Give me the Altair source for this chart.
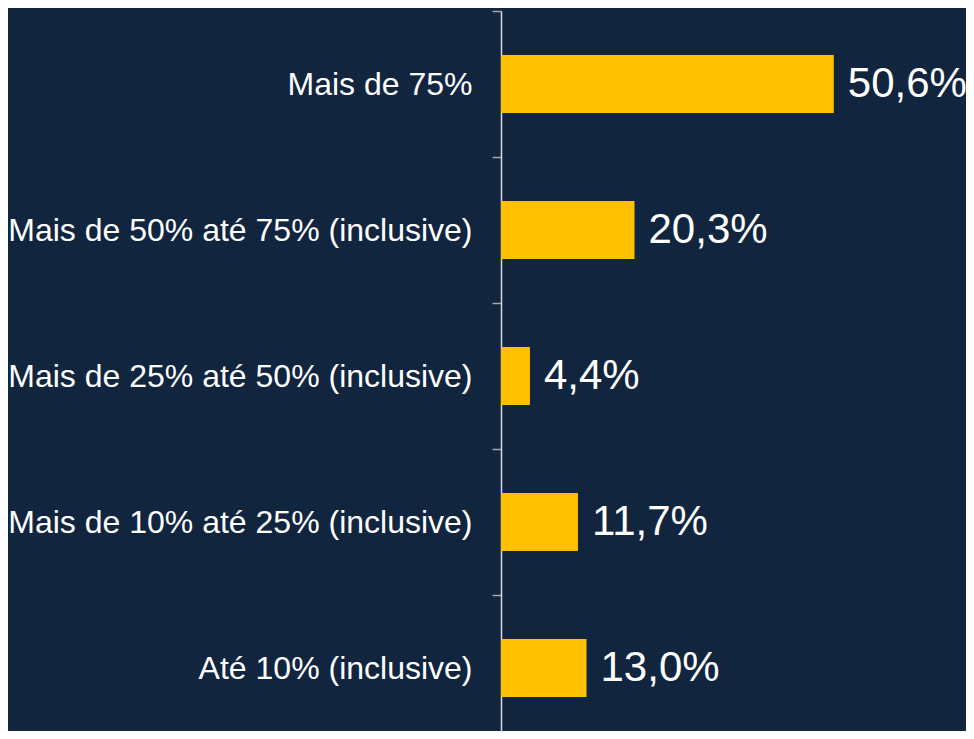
import altair as alt
import pandas as pd

categories = [
    "Mais de 75%",
    "Mais de 50% até 75% (inclusive)",
    "Mais de 25% até 50% (inclusive)",
    "Mais de 10% até 25% (inclusive)",
    "Até 10% (inclusive)",
]
values = [50.6, 20.3, 4.4, 11.7, 13.0]
value_labels = ["50,6%", "20,3%", "4,4%", "11,7%", "13,0%"]

df = pd.DataFrame({"cat": categories, "val": values, "lbl": value_labels})

FONT = "Liberation Sans"
BG = "#11253F"

y_enc = alt.Y(
    "cat:N",
    sort=categories,
    title=None,
    scale=alt.Scale(paddingInner=0, paddingOuter=0, range=[0, 730]),
    axis=alt.Axis(
        labelFont=FONT,
        labelFontSize=32,
        labelColor="#FFFFFF",
        labelPadding=20,
        labelLimit=0,
        tickSize=9,
        tickColor="#A6A6A6",
        tickWidth=1.5,
        domainColor="#D9D9D9",
        domainWidth=1.5,
        tickBand="extent",
        grid=False,
    ),
)
x_enc = alt.X("val:Q", axis=None, scale=alt.Scale(domain=[0, 70.7], nice=False))

bars = alt.Chart(df).mark_bar(color="#FFC000", height=58).encode(x=x_enc, y=y_enc)
text = alt.Chart(df).mark_text(
    align="left", baseline="middle", dx=14, fontSize=42, font=FONT, color="#FFFFFF"
).encode(x=x_enc, y=y_enc, text="lbl:N")

chart = (
    alt.layer(bars, text)
    .properties(
        width=465,
        height=720,
        background=BG,
        autosize=alt.AutoSizeParams(type="none"),
        padding={"left": 493, "top": 3, "right": 0, "bottom": 0},
    )
    .configure_view(stroke=None)
)

chart.save("out.html", embed_options={"renderer": "svg", "actions": False})
